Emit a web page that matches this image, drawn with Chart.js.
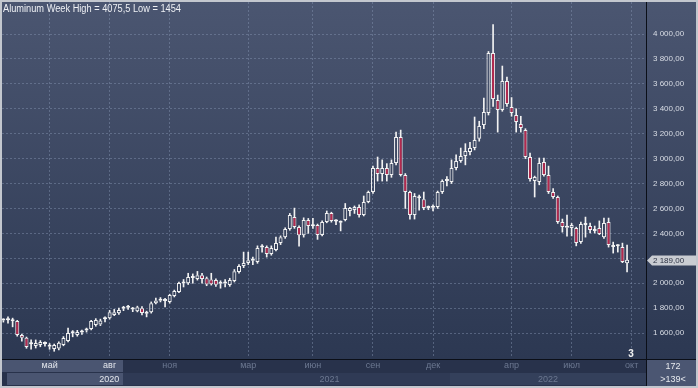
<!DOCTYPE html>
<html>
<head>
<meta charset="utf-8">
<script src="https://cdn.jsdelivr.net/npm/chart.js@4"></script>
<style>
  html, body { margin: 0; padding: 0; background: #3a4560; }
</style>
</head>
<body>
<canvas id="chart" width="698" height="388"></canvas>
<script>
// weekly candles, week 0 = 24 Feb 2020
const opens = [
  1700, 1706, 1702, 1696, 1584, 1562, 1510, 1496, 1504, 1512,
  1506, 1472, 1476, 1505, 1536, 1598, 1584, 1605, 1620, 1632,
  1664, 1668, 1710, 1720, 1745, 1760, 1796, 1804, 1789, 1776,
  1800, 1756, 1768, 1840, 1875, 1858, 1850, 1897, 1930, 1998,
  2000, 2042, 2033, 2065, 2040, 2030, 2025, 1996, 1998, 1985,
  2017, 2090, 2138, 2162, 2180, 2170, 2286, 2290, 2234, 2266,
  2322, 2370, 2435, 2531, 2451, 2385, 2507, 2458, 2467, 2387,
  2491, 2563, 2496, 2486, 2507, 2579, 2587, 2611, 2547, 2651,
  2732, 2924, 2876, 2924, 2868, 2964, 3173, 2868, 2732, 2547,
  2683, 2675, 2604, 2606, 2611, 2732, 2820, 2812, 2924, 2980,
  3021, 3053, 3085, 3160, 3270, 3366, 3847, 3470, 3390, 3622,
  3414, 3350, 3277, 3229, 3013, 2820, 2812, 2972, 2868, 2732,
  2692, 2491, 2445, 2443, 2443, 2330, 2467, 2459, 2420, 2443,
  2370, 2491, 2290, 2300, 2290, 2160
];
const highs = [
  1715, 1730, 1720, 1702, 1592, 1568, 1545, 1545, 1540, 1530,
  1516, 1512, 1530, 1572, 1640, 1620, 1622, 1625, 1640, 1702,
  1716, 1712, 1730, 1782, 1790, 1800, 1815, 1822, 1806, 1816,
  1812, 1776, 1850, 1880, 1885, 1878, 1912, 1945, 2010, 2030,
  2080, 2075, 2095, 2080, 2050, 2080, 2035, 2020, 2030, 2040,
  2110, 2150, 2250, 2250, 2210, 2300, 2310, 2300, 2300, 2370,
  2380, 2445, 2560, 2603, 2460, 2525, 2520, 2520, 2475, 2500,
  2580, 2570, 2510, 2500, 2640, 2610, 2620, 2630, 2700, 2740,
  2940, 3013, 2990, 2960, 2990, 3213, 3229, 2880, 2740, 2720,
  2707, 2732, 2620, 2630, 2740, 2830, 2856, 2990, 3030, 3085,
  3120, 3130, 3334, 3300, 3486, 3860, 4075.5, 3510, 3743, 3655,
  3490, 3400, 3340, 3240, 3045, 2860, 3005, 3005, 2940, 2760,
  2700, 2515, 2547, 2480, 2450, 2491, 2531, 2483, 2459, 2500,
  2523, 2523, 2330, 2310, 2322, 2306
];
const lows = [
  1688, 1680, 1650, 1575, 1535, 1478, 1470, 1480, 1490, 1495,
  1470, 1454, 1465, 1498, 1530, 1570, 1575, 1590, 1608, 1625,
  1655, 1660, 1690, 1712, 1740, 1750, 1780, 1790, 1772, 1770,
  1745, 1730, 1760, 1835, 1850, 1810, 1840, 1890, 1925, 1970,
  1990, 2000, 2025, 2000, 1980, 1985, 1975, 1960, 1970, 1975,
  2010, 2080, 2125, 2150, 2150, 2160, 2250, 2210, 2225, 2260,
  2310, 2360, 2425, 2440, 2298, 2370, 2400, 2440, 2352, 2380,
  2485, 2490, 2470, 2420, 2500, 2540, 2560, 2530, 2540, 2645,
  2720, 2820, 2820, 2820, 2850, 2950, 2860, 2600, 2515, 2515,
  2587, 2590, 2590, 2580, 2600, 2720, 2780, 2800, 2910, 2970,
  2950, 3030, 3070, 3140, 3240, 3350, 3420, 3213, 3380, 3420,
  3340, 3213, 3213, 3000, 2820, 2692, 2790, 2860, 2720, 2680,
  2480, 2410, 2378, 2380, 2300, 2320, 2370, 2403, 2403, 2390,
  2360, 2290, 2242, 2250, 2165, 2090
];
const closes = [
  1706, 1702, 1694, 1584, 1562, 1488, 1514, 1520, 1528, 1516,
  1490, 1504, 1522, 1560, 1600, 1604, 1608, 1611, 1626, 1696,
  1704, 1700, 1715, 1768, 1768, 1785, 1802, 1809, 1794, 1808,
  1762, 1762, 1840, 1862, 1860, 1862, 1905, 1937, 2001, 2004,
  2050, 2046, 2065, 2033, 1990, 1992, 1988, 2002, 2004, 2025,
  2097, 2138, 2162, 2185, 2188, 2282, 2292, 2234, 2282, 2322,
  2370, 2435, 2547, 2451, 2385, 2507, 2459, 2462, 2387, 2491,
  2563, 2499, 2500, 2490, 2603, 2603, 2611, 2547, 2651, 2732,
  2924, 2876, 2924, 2868, 2964, 3173, 2868, 2732, 2547, 2700,
  2692, 2603, 2608, 2610, 2732, 2820, 2836, 2924, 2980, 3021,
  3061, 3085, 3149, 3261, 3374, 3847, 3478, 3390, 3622, 3438,
  3366, 3293, 3245, 3013, 2836, 2852, 2964, 2868, 2732, 2692,
  2491, 2451, 2455, 2467, 2322, 2475, 2483, 2427, 2424, 2395,
  2483, 2306, 2302, 2296, 2170, 2189
];

// first week of each labelled month
const monthWeeks = [10, 23, 36, 53, 67, 80, 93, 110, 123, 136];
const monthLabels = ['май', 'авг', 'ноя', 'мар', 'июн', 'сен', 'дек', 'апр', 'июл', 'окт'];
const yearLabels = ['2020', '2021', '2022'];
const priceTicks = [1600, 1800, 2000, 2200, 2400, 2600, 2800, 3000, 3200, 3400, 3600, 3800, 4000];
const lastPrice = 2189;
const titleText = 'Aluminum Week High = 4075,5 Low = 1454';

const yearCenters = [22.9, 70.6, 117.9];   // week position of the year captions
const BG_TOP = '#4b5671', BG_BOT = '#2c3852';
const UP_LINE = '#f2f2f2', DOWN_FILL = '#b3294e';
const FONT = 'Arial, "Liberation Sans", sans-serif';

function fmtPrice(v) {
  const s = Math.round(v).toString();
  const t = s.length > 3 ? s.slice(0, s.length - 3) + ' ' + s.slice(-3) : s;
  return t + ',00';
}

const bodies = opens.map((o, i) => ({x: i, y: [Math.min(o, closes[i]), Math.max(o, closes[i])]}));
const wickUp = opens.map((o, i) => ({x: i, y: [Math.max(o, closes[i]), highs[i]]}));
const wickDn = opens.map((o, i) => ({x: i, y: [lows[i], Math.min(o, closes[i])]}));
const bodyFill = opens.map((o, i) => closes[i] < o ? DOWN_FILL : 'rgba(0,0,0,0)');

const framePlugin = {
  id: 'frame',
  beforeDraw(chart) {
    const ctx = chart.ctx;
    const W = chart.width, H = chart.height;
    const g = ctx.createLinearGradient(0, 0, 0, 358);
    g.addColorStop(0, BG_TOP);
    g.addColorStop(1, BG_BOT);
    ctx.save();
    ctx.fillStyle = g;
    ctx.fillRect(0, 0, W, H);
    // bottom strip
    ctx.fillStyle = '#28324b';
    ctx.fillRect(0, 360, W, 28);
    ctx.fillStyle = '#4a5571';
    ctx.fillRect(2, 360, 121, 12);
    ctx.fillRect(7, 373, 116, 12);
    ctx.fillStyle = '#2f3a55';
    ctx.fillRect(123, 373, 327, 12);
    ctx.fillStyle = '#34405b';
    ctx.fillRect(450, 373, 196, 12);
    // year captions
    const xs = chart.scales.x;
    ctx.font = '9px ' + FONT;
    ctx.textAlign = 'center';
    ctx.textBaseline = 'middle';
    yearLabels.forEach((t, i) => {
      ctx.fillStyle = i === 0 ? '#e3e6ec' : '#6c7891';
      ctx.fillText(t, xs.getPixelForValue(yearCenters[i]), 379.5);
    });
    ctx.restore();
  },
  afterDraw(chart) {
    const ctx = chart.ctx;
    const W = chart.width, H = chart.height;
    ctx.save();
    // separators
    ctx.strokeStyle = '#0b0f18';
    ctx.lineWidth = 1;
    ctx.beginPath();
    ctx.moveTo(646.5, 0); ctx.lineTo(646.5, H);
    ctx.moveTo(0, 359.5); ctx.lineTo(W, 359.5);
    ctx.stroke();
    // bottom-right box
    ctx.fillStyle = '#4b5672';
    ctx.fillRect(647, 360, 49, 26);
    ctx.fillStyle = '#e6e9ee';
    ctx.font = '9px ' + FONT;
    ctx.textAlign = 'center';
    ctx.textBaseline = 'middle';
    ctx.fillText('172', 673, 367);
    ctx.fillText('>139<', 673, 380);
    // small counter
    ctx.font = 'bold 10px ' + FONT;
    ctx.fillStyle = '#f0f0f0';
    ctx.fillText('3', 631, 354);
    // last price tag
    const yp = Math.round(chart.scales.y.getPixelForValue(lastPrice)) + 0.5;
    ctx.fillStyle = '#c9ccd2';
    ctx.beginPath();
    ctx.moveTo(647, yp);
    ctx.lineTo(652, yp - 5);
    ctx.lineTo(696, yp - 5);
    ctx.lineTo(696, yp + 5);
    ctx.lineTo(652, yp + 5);
    ctx.closePath();
    ctx.fill();
    ctx.fillStyle = '#2b3142';
    ctx.font = '8px ' + FONT;
    ctx.textAlign = 'left';
    ctx.fillText(fmtPrice(lastPrice), 653, yp + 0.5);
    // title
    ctx.fillStyle = '#eef0f4';
    ctx.font = '10px ' + FONT;
    ctx.fillText(titleText, 3, 9, 178);
    // outer frame
    ctx.strokeStyle = '#c3c7ce';
    ctx.lineWidth = 2;
    ctx.strokeRect(1, 1, W - 2, H - 2);
    ctx.restore();
  }
};

Chart.defaults.font.family = FONT;

const ctx = document.getElementById('chart').getContext('2d');
const chart = new Chart(ctx, {
  type: 'bar',
  data: {
    datasets: [
      { data: wickUp, backgroundColor: UP_LINE, barThickness: 1, borderWidth: 0, grouped: false, order: 2 },
      { data: wickDn, backgroundColor: UP_LINE, barThickness: 1, borderWidth: 0, grouped: false, order: 2 },
      { data: bodies, backgroundColor: bodyFill, borderColor: UP_LINE, borderWidth: 1,
        borderSkipped: false, inflateAmount: 0, barThickness: 4, minBarLength: 2, grouped: false, order: 1 }
    ]
  },
  options: {
    responsive: false,
    devicePixelRatio: 1,
    animation: false,
    layout: { padding: { left: 2, top: 2, right: 2, bottom: 2 } },
    plugins: { legend: { display: false }, tooltip: { enabled: false } },
    scales: {
      x: {
        type: 'linear',
        min: -0.3,
        max: 139.1,
        offset: false,
        afterBuildTicks: s => { s.ticks = monthWeeks.map(v => ({ value: v })); },
        afterFit: s => { s.height = 28; s.paddingLeft = 0; s.paddingRight = 0; },
        grid: { offset: false, color: 'rgba(135,150,180,0.45)', drawTicks: false },
        border: { display: false, dash: [2, 2] },
        ticks: {
          autoSkip: false,
          maxRotation: 0,
          padding: 2,
          font: { size: 9 },
          color: c => (c.index < 2 ? '#e3e6ec' : '#6c7891'),
          callback: (v, i) => monthLabels[i]
        }
      },
      y: {
        position: 'right',
        min: 1400,
        max: 4257,
        afterBuildTicks: s => { s.ticks = priceTicks.map(v => ({ value: v })); },
        afterFit: s => { s.width = 50; s.paddingTop = 0; s.paddingBottom = 0; },
        grid: { color: 'rgba(135,150,180,0.45)', drawTicks: false },
        border: { display: false, dash: [2, 2] },
        ticks: {
          padding: 7,
          font: { size: 8 },
          color: '#d9dde5',
          callback: v => fmtPrice(v)
        }
      }
    }
  },
  plugins: [framePlugin]
});
</script>
</body>
</html>
